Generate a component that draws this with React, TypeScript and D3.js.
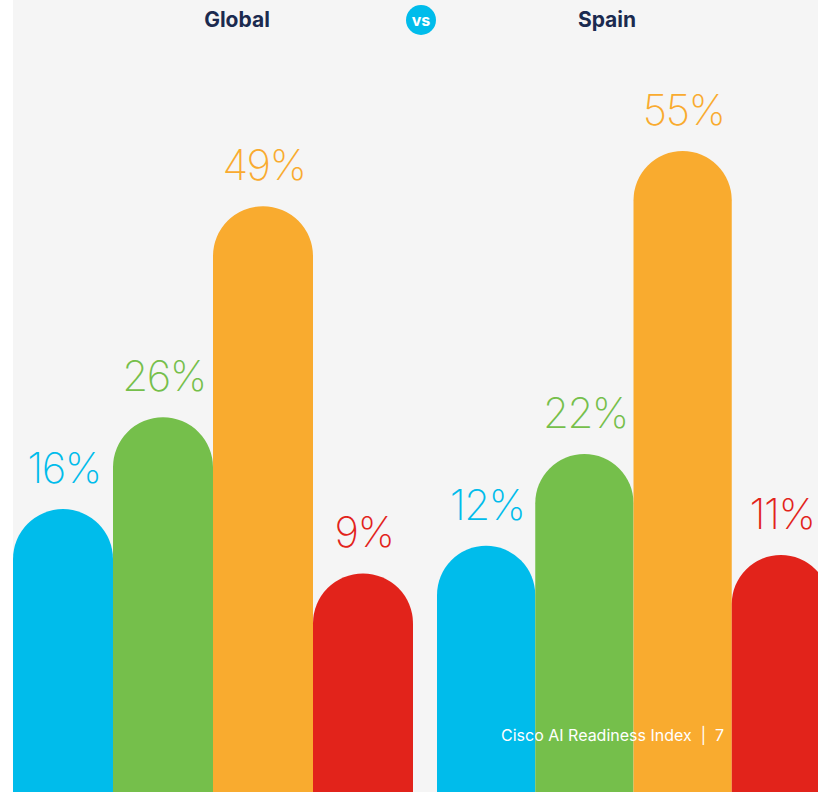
import React from "react";
import * as d3 from "d3";

const categories = ["A", "B", "C", "D"];
const globalValues = [16, 26, 49, 9];
const spainValues = [12, 22, 55, 11];
const colors = ["#00bceb", "#75bf4b", "#f9ab2f", "#e2231b"];
const panelTitles = ["Global", "Spain"];
const footer = "Cisco AI Readiness Index  |  7";

const W = 818;
const H = 792;

export default function App() {
  const y = d3.scaleLinear().domain([0, 60]).range([656, 656 - 60 * 9.18]);
  const xG = d3.scaleBand<string>().domain(categories).range([13, 413]).padding(0);
  const xS = d3.scaleBand<string>().domain(categories).range([437, 830]).padding(0);

  const panels = [
    { values: globalValues, x: xG, title: panelTitles[0], tx: 237 },
    { values: spainValues, x: xS, title: panelTitles[1], tx: 607 },
  ];

  const barPath = (x0: number, w: number, top: number) => {
    const r = w / 2;
    const p = d3.path();
    p.moveTo(x0, H + 5);
    p.lineTo(x0, top + r);
    p.arc(x0 + r, top + r, r, Math.PI, 0);
    p.lineTo(x0 + w, H + 5);
    p.closePath();
    return p.toString();
  };

  return (
    <svg
      width={W}
      height={H}
      style={{ position: "absolute", left: 0, top: 0 }}
      fontFamily="Inter, 'Open Sans', sans-serif"
    >
      <rect x={0} y={0} width={W} height={H} fill="#ffffff" />
      <rect x={13} y={0} width={W - 13} height={H} fill="#f5f5f5" />
      {panels.map((pn, pi) => (
        <g key={pi}>
          <text
            x={pn.tx}
            y={27}
            textAnchor="middle"
            fontSize={21}
            fontWeight={700}
            fill="#1b2a4f"
          >
            {pn.title}
          </text>
          {categories.map((c, i) => {
            const x0 = pn.x(c)!;
            const w = pn.x.bandwidth();
            const top = y(pn.values[i]);
            return (
              <g key={c}>
                <path d={barPath(x0, w, top)} fill={colors[i]} />
                <text
                  x={x0 + w / 2 + 1}
                  y={top - 26}
                  textAnchor="middle"
                  fontSize={42}
                  fontWeight={200}
                  letterSpacing={-1.5}
                  fill={colors[i]}
                >
                  {pn.values[i]}%
                </text>
              </g>
            );
          })}
        </g>
      ))}
      <circle cx={421} cy={20} r={15} fill="#00bceb" />
      <text x={421} y={26} textAnchor="middle" fontSize={16} fontWeight={700} fill="#ffffff">
        vs
      </text>
      <text x={501} y={741} fontSize={16} fill="#ffffff" xmlSpace="preserve">
        {footer}
      </text>
    </svg>
  );
}
